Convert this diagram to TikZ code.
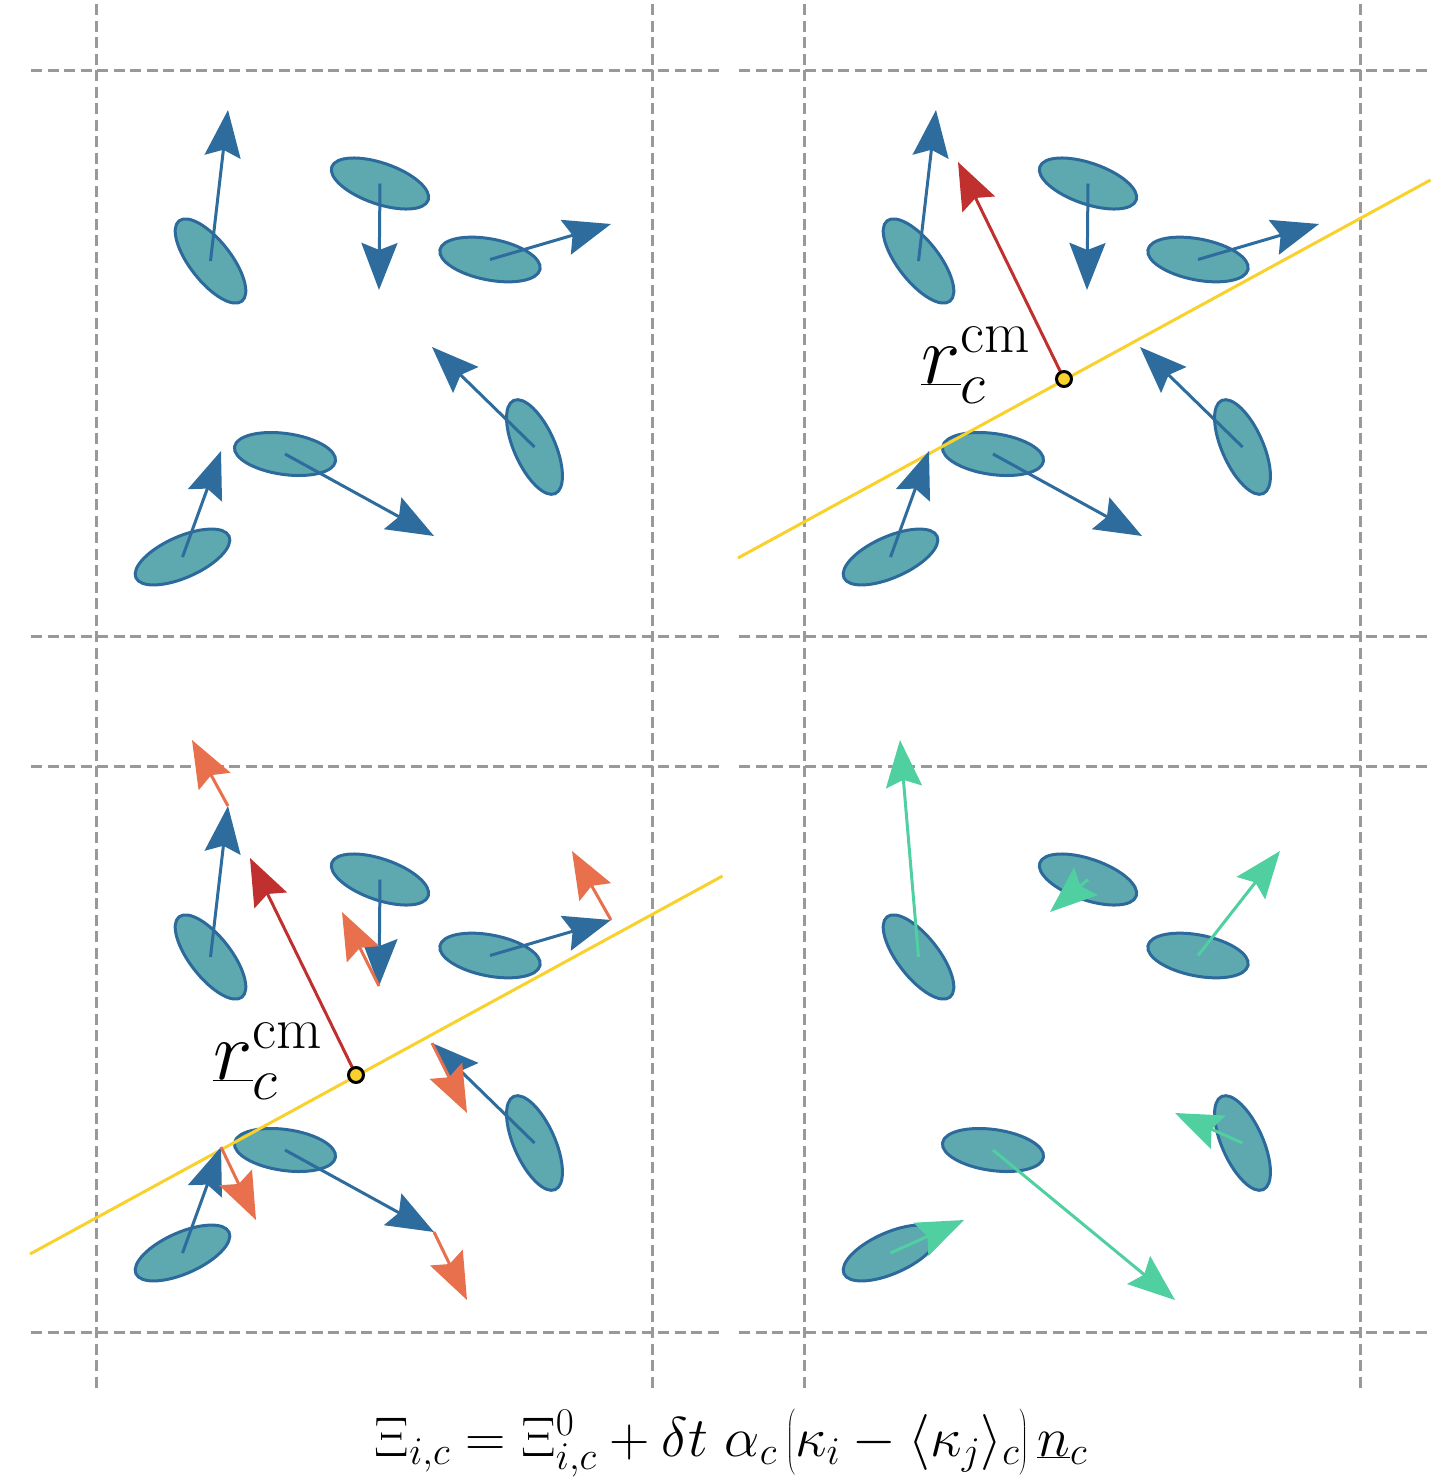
\RequirePackage{fix-cm}
\documentclass[tikz,border=0pt]{standalone}
\usetikzlibrary{arrows.meta,shapes.geometric}

\definecolor{ellfill}{HTML}{5EA8AF}
\definecolor{ellline}{HTML}{2D6A9C}
\definecolor{blu}{HTML}{2E6C9E}
\definecolor{redc}{HTML}{C0302F}
\definecolor{oran}{HTML}{E8704D}
\definecolor{gree}{HTML}{50D0A0}
\definecolor{yell}{HTML}{F8D12C}
\definecolor{gridc}{HTML}{999999}

\newcommand\mybig[1]{{\hbox{$\left#1\vbox to 0.85em{}\right.\nulldelimiterspace0pt$}}}

\begin{document}
\begin{tikzpicture}[x=1pt,y=-1pt,
  ell/.style={ellipse, draw=ellline, fill=ellfill, line width=3pt,
    minimum width=102pt, minimum height=41pt, inner sep=0pt, outer sep=0pt},
  vec/.style={line width=3pt, -{Stealth[length=47pt,width=36pt,inset=7pt]}},
  bluevec/.style={vec, color=blu},
  redvec/.style={vec, color=redc},
  oranvec/.style={vec, color=oran},
  greevec/.style={vec, color=gree},
  yline/.style={yell, line width=3pt},
  gridline/.style={gridc, line width=3pt, dash pattern=on 11pt off 5.5pt},
  cmdot/.style={circle, draw=black, fill=yell, line width=3pt,
    minimum size=15pt, inner sep=0pt},
  lbl/.style={font=\fontsize{84}{92}\selectfont, inner sep=0pt, anchor=base west},
  particles/.pic={
    \draw[gridline] (31,70) -- (723,70);
    \draw[gridline] (31,636) -- (723,636);
    \draw[gridline] (96,4) -- (96,697);
    \draw[gridline] (652,4) -- (652,697);
    \node[ell, rotate=-52] (-e1) at (210.5,261) {};
    \node[ell, rotate=-19] (-e2) at (380,183.5) {};
    \node[ell, rotate=-11] (-e3) at (490,259.5) {};
    \node[ell, rotate=-66] (-e4) at (534.5,447) {};
    \node[ell, rotate=-8]  (-e5) at (285,454) {};
    \node[ell, rotate=24]  (-e6) at (182.5,557) {};
    \coordinate (-b1) at (228,110);
    \coordinate (-b2) at (379,290);
    \coordinate (-b3) at (611,224);
    \coordinate (-b4) at (432,347);
    \coordinate (-b5) at (434,536);
    \coordinate (-b6) at (221,451);
    \coordinate (-t1) at (192,44);
    \coordinate (-t2) at (342,216);
    \coordinate (-t3) at (572,155);
    \coordinate (-t4) at (467,417);
    \coordinate (-t5) at (467,604);
    \coordinate (-t6) at (256,524);
    \coordinate (-y1) at (30,558);
    \coordinate (-y2) at (722.5,180);
    \coordinate (-cm) at (356,379);
    \coordinate (-rt) at (250,162);
  }
]
\useasboundingbox (0,0) rectangle (1447,1481);

% panels
\pic (tl) at (0,0) {particles};
\pic (tr) at (708,0) {particles};
\pic (bl) at (0,696) {particles};
\pic (br) at (708,696) {particles};

% separating lines
\draw[yline] (tr-y1) -- (tr-y2);
\draw[yline] (bl-y1) -- (bl-y2);

% blue arrows
\foreach \p in {tl,tr,bl}{
  \foreach \i in {1,...,6}{
    \draw[bluevec] (\p-e\i.center) -- (\p-b\i);
  }
}

% orange corrections
\foreach \i in {1,...,6}{
  \draw[oranvec] (bl-b\i) -- (bl-t\i);
}

% green new orientations
\foreach \i in {1,...,6}{
  \draw[greevec] (br-e\i.center) -- (br-t\i);
}

% red normal vectors
\draw[redvec] (tr-cm) -- (tr-rt);
\draw[redvec] (bl-cm) -- (bl-rt);
\node[cmdot] (trdot) at (tr-cm) {};
\node[cmdot] (bldot) at (bl-cm) {};

% labels
\node[lbl] (trlabel) at (921,383) {$\underline{r}_c^{\mathrm{cm}}$};
\node[lbl] (bllabel) at (213,1079) {$\underline{r}_c^{\mathrm{cm}}$};

% formula
\node[font=\fontsize{56}{64}\selectfont, anchor=base, inner sep=0pt] (eq) at (731,1456)
  {$\Xi_{i,c} = \Xi^{0}_{i,c} + \delta t\ \alpha_c\, \mathopen{\mybig(}\kappa_i - \langle \kappa_j \rangle_c\mathclose{\mybig)}\, \underline{n}_c$};
\end{tikzpicture}
\end{document}
